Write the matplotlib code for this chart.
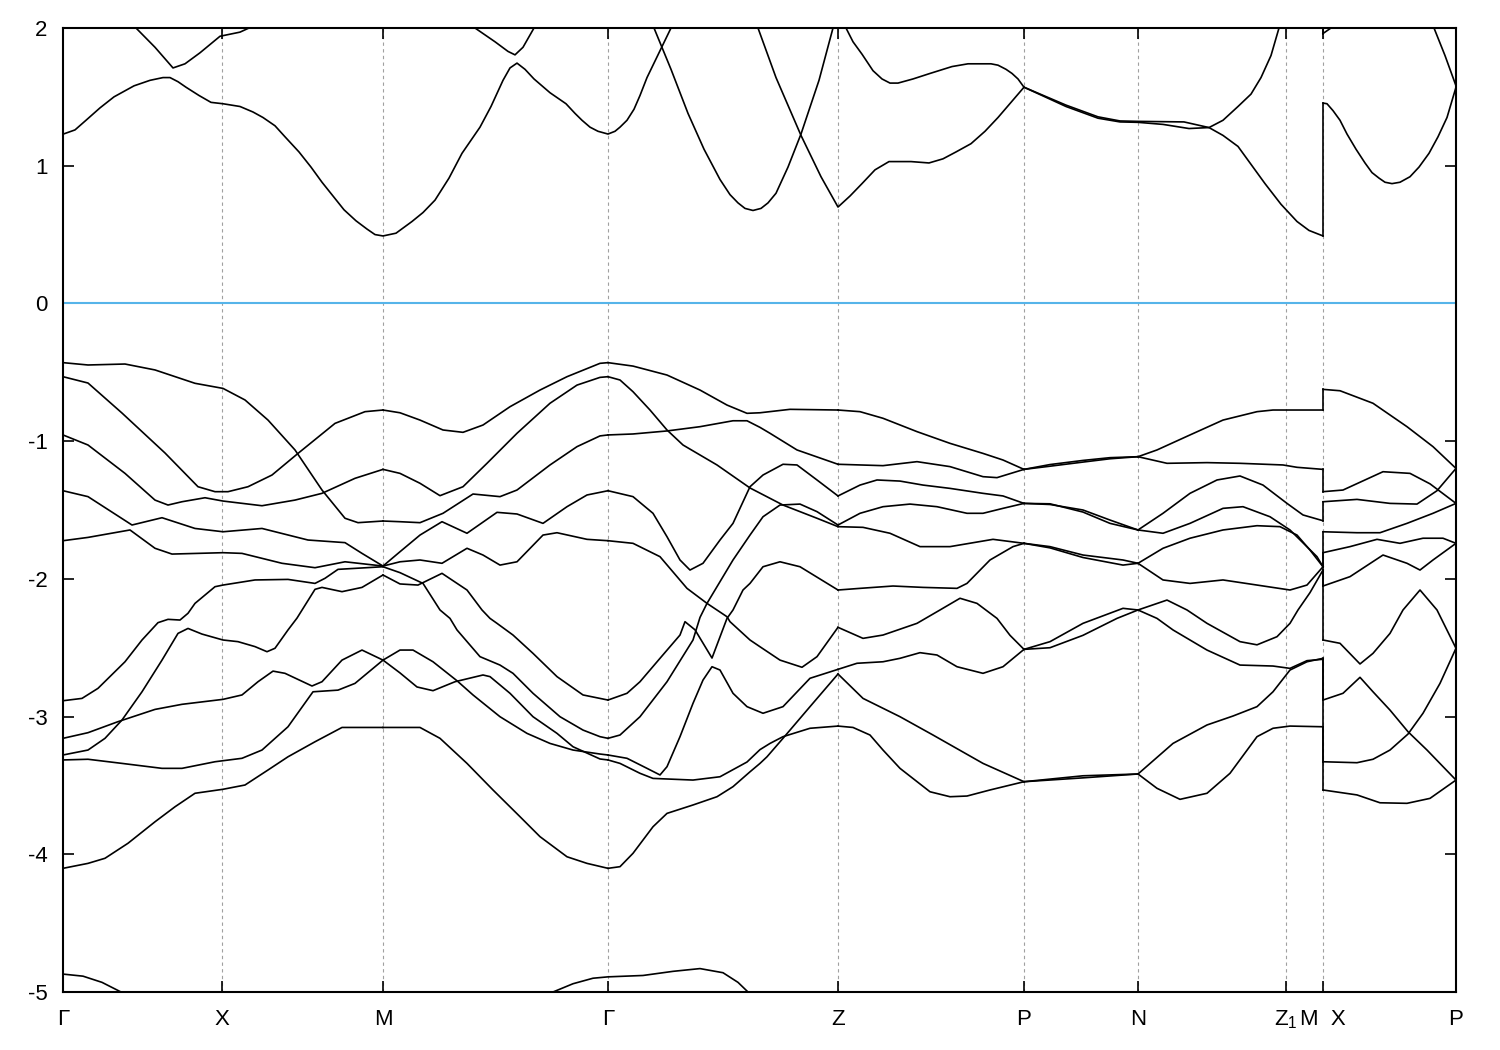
import matplotlib
matplotlib.use('Agg')
import matplotlib.pyplot as plt

plt.rcParams['font.family'] = ['Liberation Sans', 'DejaVu Sans']
plt.rcParams['mathtext.default'] = 'regular'
plt.rcParams['axes.unicode_minus'] = False

# ---- high-symmetry points (distance along the k-path, arbitrary units) ----
sym_k = [0, 159, 320, 545, 775, 961, 1075, 1223, 1260, 1393]
sym_labels = ['Γ', 'X', 'M', 'Γ', 'Z', 'P', 'N', 'Z$_1$', 'M  X', 'P']
K_MX = 1260
energy_ticks = [-5, -4, -3, -2, -1, 0, 1, 2]

# ---- valence bands, Γ-X-M ----
sec_gxm = [
    [(0,-0.430),(25,-0.447),(62,-0.440),(92,-0.483),(132,-0.580),(160,-0.617),(182,-0.701),(205,-0.847),(232,-1.064),(259,-1.355),(282,-1.560),(295,-1.592),(320,-1.580)],
    [(0,-0.532),(25,-0.578),(59,-0.796),(102,-1.086),(135,-1.331),(152,-1.367),(165,-1.367),(185,-1.331),(209,-1.246),(235,-1.089),(272,-0.871),(302,-0.786),(320,-0.774)],
    [(0,-0.955),(25,-1.028),(62,-1.234),(92,-1.428),(105,-1.464),(119,-1.440),(142,-1.411),(160,-1.435),(199,-1.469),(232,-1.428),(259,-1.379),(292,-1.270),(320,-1.205)],
    [(0,-1.360),(25,-1.403),(69,-1.609),(99,-1.556),(132,-1.634),(160,-1.658),(199,-1.634),(245,-1.718),(282,-1.737),(299,-1.815),(320,-1.907)],
    [(0,-1.723),(25,-1.699),(67,-1.645),(92,-1.778),(109,-1.820),(160,-1.810),(179,-1.815),(219,-1.887),(252,-1.919),(282,-1.876),(320,-1.907)],
    [(0,-2.885),(19,-2.868),(35,-2.795),(62,-2.602),(79,-2.444),(95,-2.318),(105,-2.294),(117,-2.299),(125,-2.250),(132,-2.178),(152,-2.057),(160,-2.045),(192,-2.008),(225,-2.004),(252,-2.033),(262,-1.996),(275,-1.931),(320,-1.912)],
    [(0,-3.279),(25,-3.243),(42,-3.158),(59,-3.025),(79,-2.820),(99,-2.590),(115,-2.396),(125,-2.360),(139,-2.401),(160,-2.444),(175,-2.456),(192,-2.492),(204,-2.529),(212,-2.504),(225,-2.371),(234,-2.285),(252,-2.076),(259,-2.062),(279,-2.093),(299,-2.062),(320,-1.972)],
    [(0,-3.158),(25,-3.117),(55,-3.037),(92,-2.948),(119,-2.911),(160,-2.875),(179,-2.843),(195,-2.747),(210,-2.670),(222,-2.686),(249,-2.778),(259,-2.747),(279,-2.590),(299,-2.517),(320,-2.590)],
    [(0,-3.315),(25,-3.310),(59,-3.340),(99,-3.376),(119,-3.376),(152,-3.328),(179,-3.303),(199,-3.243),(225,-3.074),(250,-2.820),(275,-2.808),(292,-2.759),(320,-2.590)],
    [(0,-4.102),(25,-4.066),(42,-4.029),(65,-3.920),(92,-3.764),(112,-3.655),(132,-3.557),(160,-3.528),(182,-3.497),(205,-3.388),(225,-3.292),(252,-3.183),(279,-3.079),(320,-3.079)],
]

# ---- valence bands, M-Γ ----
sec_mg = [
    [(320,-0.774),(337,-0.794),(357,-0.847),(380,-0.919),(400,-0.936),(420,-0.883),(447,-0.750),(477,-0.629),(504,-0.532),(537,-0.435),(545,-0.430)],
    [(320,-1.205),(337,-1.234),(357,-1.306),(377,-1.396),(400,-1.331),(424,-1.161),(454,-0.943),(487,-0.725),(514,-0.593),(537,-0.537),(545,-0.532)],
    [(320,-1.580),(337,-1.585),(357,-1.592),(380,-1.524),(410,-1.384),(437,-1.403),(454,-1.355),(487,-1.173),(514,-1.040),(537,-0.962),(545,-0.955)],
    [(320,-1.907),(337,-1.803),(357,-1.682),(379,-1.585),(404,-1.669),(434,-1.517),(454,-1.529),(480,-1.597),(504,-1.476),(524,-1.391),(545,-1.360)],
    [(320,-1.907),(337,-1.876),(357,-1.863),(379,-1.887),(404,-1.778),(420,-1.827),(437,-1.900),(454,-1.876),(480,-1.682),(494,-1.665),(524,-1.713),(545,-1.723)],
    [(320,-1.912),(337,-1.955),(360,-2.033),(377,-2.226),(387,-2.287),(394,-2.371),(417,-2.565),(437,-2.626),(450,-2.686),(470,-2.831),(497,-3.001),(520,-3.098),(537,-3.146),(545,-3.158)],
    [(320,-1.972),(337,-2.037),(355,-2.045),(379,-1.960),(404,-2.081),(419,-2.226),(427,-2.287),(434,-2.323),(450,-2.408),(470,-2.541),(494,-2.710),(520,-2.843),(545,-2.880)],
    [(320,-2.590),(337,-2.517),(350,-2.517),(370,-2.602),(394,-2.740),(410,-2.843),(437,-3.001),(464,-3.122),(487,-3.195),(510,-3.243),(537,-3.272),(545,-3.279)],
    [(320,-2.590),(337,-2.683),(354,-2.785),(370,-2.812),(392,-2.747),(420,-2.698),(427,-2.710),(447,-2.831),(470,-3.001),(494,-3.122),(510,-3.219),(537,-3.308),(545,-3.315)],
    [(320,-3.079),(357,-3.079),(377,-3.158),(404,-3.340),(430,-3.533),(457,-3.727),(477,-3.872),(504,-4.018),(524,-4.066),(545,-4.102)],
]

# ---- valence bands, Γ-Z ----
sec_gz = [
    [(545,-0.430),(570,-0.455),(604,-0.520),(637,-0.629),(664,-0.738),(684,-0.798),(697,-0.794),(727,-0.769),(775,-0.774)],
    [(545,-0.532),(557,-0.556),(570,-0.641),(587,-0.774),(604,-0.919),(620,-1.028),(654,-1.173),(687,-1.340),(720,-1.464),(754,-1.560),(775,-1.621)],
    [(545,-0.955),(570,-0.948),(604,-0.926),(637,-0.895),(670,-0.852),(684,-0.852),(697,-0.900),(707,-0.943),(734,-1.064),(775,-1.168)],
    [(545,-1.360),(570,-1.403),(590,-1.524),(604,-1.694),(617,-1.863),(627,-1.936),(640,-1.887),(657,-1.718),(670,-1.597),(687,-1.331),(700,-1.246),(720,-1.168),(734,-1.173),(754,-1.282),(775,-1.398)],
    [(545,-1.723),(570,-1.742),(597,-1.839),(624,-2.069),(644,-2.178),(664,-2.275),(667,-2.311),(687,-2.444),(697,-2.493),(717,-2.590),(739,-2.642),(754,-2.565),(775,-2.352)],
    [(545,-3.158),(557,-3.134),(577,-3.001),(604,-2.747),(630,-2.444),(637,-2.280),(644,-2.178),(670,-1.863),(687,-1.682),(700,-1.549),(717,-1.464),(737,-1.457),(754,-1.512),(775,-1.609)],
    [(545,-2.880),(564,-2.831),(577,-2.747),(597,-2.577),(617,-2.408),(622,-2.311),(632,-2.370),(649,-2.575),(664,-2.287),(670,-2.226),(680,-2.081),(687,-2.033),(700,-1.912),(717,-1.876),(737,-1.912),(775,-2.081)],
    [(545,-3.279),(564,-3.303),(584,-3.376),(597,-3.424),(604,-3.364),(617,-3.146),(630,-2.904),(640,-2.735),(649,-2.638),(657,-2.662),(670,-2.831),(684,-2.928),(700,-2.976),(720,-2.928),(747,-2.722),(775,-2.657)],
    [(545,-3.315),(557,-3.340),(577,-3.412),(590,-3.449),(630,-3.461),(657,-3.437),(684,-3.330),(697,-3.240),(707,-3.195),(720,-3.146),(747,-3.085),(775,-3.069)],
    [(545,-4.102),(557,-4.090),(570,-3.993),(590,-3.800),(604,-3.703),(630,-3.642),(654,-3.582),(670,-3.509),(687,-3.401),(697,-3.340),(704,-3.292),(720,-3.158),(747,-2.928),(775,-2.691)],
]

# ---- valence bands, Z-P ----
sec_zp = [
    [(775,-0.774),(797,-0.786),(820,-0.834),(854,-0.931),(887,-1.016),(920,-1.089),(940,-1.137),(961,-1.205)],
    [(775,-1.168),(820,-1.178),(854,-1.149),(887,-1.185),(920,-1.258),(934,-1.265),(961,-1.205)],
    [(775,-1.398),(797,-1.319),(814,-1.282),(837,-1.290),(860,-1.319),(887,-1.343),(920,-1.379),(940,-1.398),(961,-1.452)],
    [(775,-1.609),(797,-1.524),(820,-1.476),(847,-1.457),(874,-1.476),(904,-1.524),(920,-1.524),(940,-1.488),(961,-1.452)],
    [(775,-1.621),(800,-1.626),(827,-1.669),(857,-1.766),(887,-1.766),(930,-1.713),(961,-1.742)],
    [(775,-2.081),(797,-2.069),(830,-2.052),(860,-2.062),(894,-2.069),(904,-2.033),(927,-1.863),(950,-1.766),(961,-1.742)],
    [(775,-2.352),(800,-2.432),(820,-2.408),(854,-2.323),(877,-2.226),(897,-2.141),(914,-2.178),(934,-2.287),(947,-2.410),(961,-2.512)],
    [(775,-2.657),(794,-2.613),(820,-2.602),(837,-2.577),(857,-2.536),(874,-2.553),(894,-2.638),(920,-2.686),(940,-2.638),(961,-2.512)],
    [(775,-3.069),(790,-3.079),(807,-3.134),(820,-3.243),(837,-3.376),(867,-3.546),(887,-3.582),(904,-3.577),(927,-3.533),(961,-3.473)],
    [(775,-2.691),(800,-2.868),(837,-3.001),(870,-3.134),(920,-3.340),(961,-3.473)],
]

# ---- valence bands, P-N ----
sec_pn = [
    [(961,-1.205),(987,-1.170),(1020,-1.140),(1047,-1.120),(1075,-1.113)],
    [(961,-1.205),(987,-1.182),(1020,-1.152),(1047,-1.128),(1075,-1.113)],
    [(961,-1.452),(987,-1.460),(1020,-1.500),(1047,-1.573),(1075,-1.645)],
    [(961,-1.452),(987,-1.455),(1020,-1.515),(1047,-1.597),(1075,-1.645)],
    [(961,-1.742),(987,-1.766),(1020,-1.827),(1060,-1.863),(1075,-1.887)],
    [(961,-1.742),(987,-1.775),(1020,-1.845),(1060,-1.900),(1075,-1.887)],
    [(961,-2.512),(987,-2.456),(1020,-2.323),(1060,-2.214),(1075,-2.226)],
    [(961,-2.512),(987,-2.500),(1020,-2.410),(1054,-2.287),(1075,-2.226)],
    [(961,-3.473),(1020,-3.445),(1075,-3.417)],
    [(961,-3.473),(1020,-3.430),(1075,-3.417)],
]

# ---- valence bands, N-Z1-M ----
sec_nm = [
    [(1075,-1.113),(1094,-1.064),(1127,-0.955),(1160,-0.847),(1194,-0.786),(1210,-0.774),(1260,-0.774)],
    [(1075,-1.113),(1104,-1.161),(1144,-1.156),(1177,-1.161),(1220,-1.173),(1234,-1.190),(1260,-1.205)],
    [(1075,-1.645),(1100,-1.524),(1127,-1.379),(1154,-1.282),(1177,-1.253),(1200,-1.319),(1224,-1.452),(1240,-1.536),(1260,-1.578)],
    [(1075,-1.645),(1100,-1.669),(1127,-1.597),(1160,-1.488),(1180,-1.476),(1207,-1.549),(1227,-1.645),(1254,-1.839),(1260,-1.912)],
    [(1075,-1.887),(1100,-1.778),(1127,-1.705),(1160,-1.645),(1194,-1.614),(1217,-1.621),(1234,-1.682),(1247,-1.791),(1260,-1.912)],
    [(1075,-1.887),(1100,-2.008),(1127,-2.033),(1160,-2.008),(1194,-2.045),(1227,-2.081),(1244,-2.045),(1260,-1.912)],
    [(1075,-2.226),(1104,-2.154),(1124,-2.226),(1144,-2.323),(1177,-2.456),(1194,-2.479),(1214,-2.420),(1227,-2.323),(1235,-2.226),(1247,-2.100),(1260,-1.936)],
    [(1075,-2.226),(1094,-2.287),(1110,-2.371),(1144,-2.517),(1177,-2.626),(1210,-2.633),(1227,-2.650),(1244,-2.594),(1260,-2.584)],
    [(1075,-3.417),(1094,-3.521),(1117,-3.601),(1144,-3.557),(1167,-3.412),(1194,-3.146),(1210,-3.085),(1227,-3.069),(1260,-3.074)],
    [(1075,-3.417),(1110,-3.195),(1144,-3.061),(1170,-2.996),(1194,-2.928),(1210,-2.820),(1227,-2.662),(1244,-2.602),(1260,-2.577)],
]

# ---- valence bands, X-P ----
sec_xp = [
    [(1260,-0.624),(1277,-0.634),(1310,-0.725),(1344,-0.895),(1370,-1.040),(1393,-1.198)],
    [(1260,-1.367),(1280,-1.355),(1320,-1.222),(1347,-1.234),(1367,-1.310),(1393,-1.452)],
    [(1260,-1.440),(1294,-1.423),(1327,-1.452),(1354,-1.457),(1374,-1.360),(1393,-1.198)],
    [(1260,-1.658),(1294,-1.665),(1317,-1.665),(1344,-1.597),(1370,-1.524),(1393,-1.452)],
    [(1260,-1.810),(1287,-1.766),(1314,-1.713),(1337,-1.742),(1360,-1.705),(1380,-1.705),(1393,-1.742)],
    [(1260,-2.052),(1287,-1.984),(1320,-1.827),(1344,-1.887),(1357,-1.936),(1370,-1.863),(1393,-1.742)],
    [(1260,-2.444),(1277,-2.468),(1297,-2.618),(1310,-2.541),(1327,-2.396),(1340,-2.226),(1357,-2.081),(1374,-2.226),(1393,-2.504)],
    [(1260,-2.880),(1280,-2.831),(1297,-2.715),(1310,-2.820),(1327,-2.953),(1345,-3.110),(1364,-3.243),(1393,-3.461)],
    [(1260,-3.328),(1294,-3.335),(1310,-3.310),(1327,-3.243),(1345,-3.127),(1360,-2.976),(1377,-2.759),(1393,-2.504)],
    [(1260,-3.533),(1294,-3.569),(1317,-3.626),(1344,-3.630),(1367,-3.594),(1393,-3.461)],
]

# ---- conduction bands ----
cond_bands = [
    [(0,1.229),(12,1.26),(23,1.33),(37,1.42),(51,1.50),(71,1.58),(87,1.62),(100,1.64),(107,1.64),(115,1.61),(123,1.57),(136,1.51),(148,1.46),(160,1.45),(177,1.43),(190,1.39),(200,1.35),(212,1.29),(222,1.21),(236,1.10),(248,0.99),(259,0.88),(270,0.78),(281,0.68),(293,0.60),(304,0.54),(312,0.50),(320,0.49),(333,0.51),(349,0.595),(360,0.66),(372,0.75),(386,0.91),(399,1.09),(417,1.28),(428,1.43),(440,1.62),(447,1.71),(454,1.745),(462,1.70),(471,1.63),(487,1.53),(503,1.45),(512,1.38),(519,1.33),(527,1.28),(535,1.25),(545,1.23),(552,1.25),(557,1.28),(564,1.33),(571,1.41),(577,1.51),(584,1.64),(592,1.76),(600,1.88),(608,2.0)],
    [(73,2.0),(92,1.86),(110,1.71),(122,1.74),(137,1.82),(157,1.94),(177,1.97),(186,2.0)],
    [(412,2.0),(432,1.90),(445,1.83),(452,1.805),(460,1.86),(471,2.0)],
    [(591,2.0),(608,1.70),(625,1.38),(641,1.12),(657,0.90),(667,0.79),(675,0.73),(682,0.69),(690,0.675),(698,0.69),(705,0.73),(713,0.80),(725,0.99),(738,1.23),(756,1.62),(770,2.0)],
    [(695,2.0),(713,1.64),(738,1.22),(758,0.92),(775,0.70),(787,0.78),(799,0.87),(812,0.97),(826,1.03),(848,1.03),(866,1.02),(880,1.05),(893,1.10),(908,1.16),(922,1.25),(935,1.35),(948,1.46),(961,1.57)],
    [(783,2.0),(790,1.90),(799,1.81),(810,1.69),(819,1.63),(827,1.60),(835,1.60),(850,1.63),(867,1.67),(889,1.72),(905,1.74),(917,1.74),(928,1.74),(935,1.73),(943,1.70),(949,1.67),(955,1.63),(961,1.57)],
    [(961,1.57),(1003,1.44),(1035,1.355),(1057,1.325),(1075,1.322),(1121,1.318),(1146,1.277),(1160,1.33),(1175,1.43),(1188,1.52),(1198,1.64),(1208,1.80),(1216,2.0),(1260,2.3)],
    [(961,1.57),(1003,1.43),(1035,1.345),(1057,1.318),(1075,1.315),(1100,1.30),(1126,1.27),(1146,1.277),(1160,1.22),(1175,1.14),(1188,1.01),(1202,0.87),(1218,0.72),(1234,0.595),(1246,0.53),(1260,0.49)],
    [(1260,1.455),(1264,1.45),(1270,1.40),(1277,1.33),(1284,1.23),(1293,1.12),(1302,1.02),(1309,0.95),(1316,0.91),(1322,0.88),(1329,0.87),(1337,0.88),(1347,0.92),(1356,0.99),(1366,1.09),(1375,1.21),(1384,1.35),(1393,1.57)],
    [(1260,1.96),(1268,2.0)],
    [(1371,2.0),(1382,1.80),(1393,1.58)],
]

# ---- deep bands near -5 eV ----
deep_bands = [
    [(0,-4.87),(20,-4.885),(39,-4.93),(58,-5.0)],
    [(490,-5.0),(510,-4.94),(530,-4.90),(545,-4.89),(580,-4.88),(610,-4.85),(637,-4.83),(660,-4.86),(675,-4.93),(685,-5.0)],
]

all_curves = sec_gxm + sec_mg + sec_gz + sec_zp + sec_pn + sec_nm + sec_xp + cond_bands + deep_bands

W, H = 1500, 1050
fig = plt.figure(figsize=(W / 100, H / 100), dpi=100)
ax = fig.add_axes([63 / W, 1 - 992 / H, (1456 - 63) / W, (992 - 28) / H])

for k in sym_k[1:-1]:
    ax.axvline(k, color='#a0a0a0', lw=0.8, ls=(0, (3, 3)), zorder=1)
ax.axhline(0, color='#56b4e9', lw=1.5, zorder=2)

for curve in all_curves:
    ks = [p[0] for p in curve]
    es = [p[1] for p in curve]
    ax.plot(ks, es, color='black', lw=1.2, solid_joinstyle='round', zorder=3)

# jumps at the M|X discontinuity: connect band n at M with band n at X
left_ends = sorted(c[-1][1] for c in all_curves if c[-1][0] == K_MX)
right_starts = sorted(c[0][1] for c in all_curves if c[0][0] == K_MX)
for a, b in zip(left_ends, right_starts):
    ax.plot([K_MX, K_MX], [a, b], color='black', lw=1.2, zorder=3)

ax.set_xlim(sym_k[0], sym_k[-1])
ax.set_ylim(-5, 2)
ax.set_xticks(sym_k)
ax.set_xticklabels(sym_labels)
ax.set_yticks(energy_ticks)
ax.set_yticklabels([str(v) for v in energy_ticks])
ax.tick_params(direction='in', length=8, width=1.2, top=True, right=True,
               labelsize=16, colors='black')
ax.tick_params(axis='x', pad=12)
ax.tick_params(axis='y', pad=11)
for s in ax.spines.values():
    s.set_linewidth(1.5)

fig.savefig('out.png', dpi=100)
